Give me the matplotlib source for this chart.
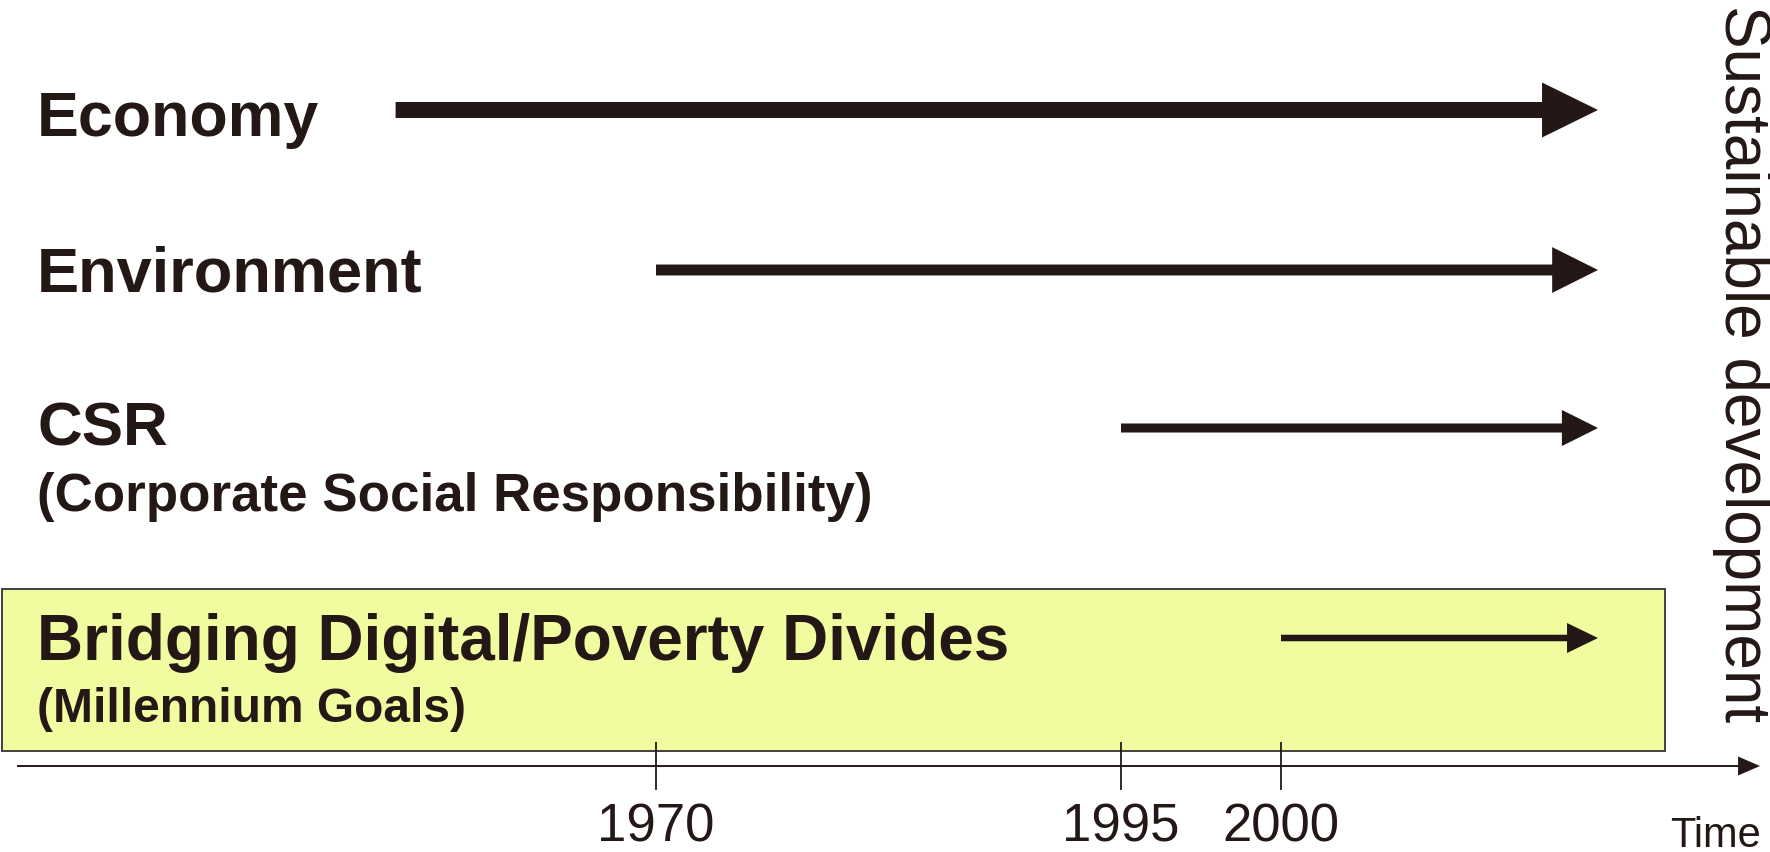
import matplotlib.pyplot as plt
import numpy as np
from matplotlib.patches import FancyArrowPatch, Rectangle, ArrowStyle
from matplotlib.transforms import blended_transform_factory

# filas del esquema (datos)
temas = ['Economy', 'Environment', 'CSR', 'Bridging Digital/Poverty Divides']
subtitulos = ['', '', '(Corporate Social Responsibility)', '(Millennium Goals)']
anio_inicio = [1956, 1970, 1995, 2000]
anio_fin = 2010
anios_marca = [1970, 1995, 2000]
etiqueta_eje = 'Time'
etiqueta_meta = 'Sustainable development'

# disposicion (pixeles de la figura, eje y hacia abajo)
fila_y = [111, 271, 429, 639]
texto_y = [136, 291, 446, 660]
ancho_tema = [282, 386, 131, 972]      # ancho medido del texto en la referencia
sub_y = [None, None, 511, 722]
ancho_sub = [0, 0, 834, 428]
# (ancho cola, ancho cabeza, largo cabeza) en puntos
flecha = [(11.5, 39.6, 40.3), (7.9, 33.0, 33.0), (6.5, 26.0, 26.0), (4.7, 21.6, 22.3)]

# el eje del tiempo no es lineal: escala por tramos
anios_nodo = [1930, 1995, 2000, 2020]
px_nodo = [-88, 1121, 1281, 1915]

negro = '#231815'
plt.rcParams['font.family'] = ['Liberation Sans', 'DejaVu Sans']

fig = plt.figure(figsize=(17.7, 8.53), dpi=100)
ax = fig.add_axes([0, 0, 1, 1])
rend = fig.canvas.get_renderer()


def adelante(x):
    return np.interp(x, anios_nodo, px_nodo)


def atras(x):
    return np.interp(x, px_nodo, anios_nodo)


def ajustar(t, ancho):
    # ajusta el tamaño de letra para que el texto ocupe el ancho pedido
    w = t.get_window_extent(renderer=rend).width
    t.set_fontsize(t.get_fontsize() * ancho / w)


ax.set_xscale('function', functions=(adelante, atras))
ax.set_xlim(atras(0), atras(1770))
ax.set_ylim(853, 0)
mezcla = blended_transform_factory(ax.transAxes, ax.transData)

for s in ['top', 'left', 'right', 'bottom']:
    ax.spines[s].set_visible(False)
ax.spines['bottom'].set_position(('data', 767))
ax.set_yticks([])
ax.set_xticks(anios_marca, labels=[str(a) for a in anios_marca])
ax.tick_params(axis='x', direction='inout', length=35, width=1.3, color=negro,
               labelsize=38, labelcolor=negro, pad=8)

# recuadro amarillo de la ultima fila
ax.add_patch(Rectangle((2 / 1770, 590), 1663 / 1770, 162, transform=mezcla,
                       facecolor='#f1fb9f', edgecolor='#333333', lw=1.3, zorder=0))

# eje del tiempo con flecha
ax.add_patch(FancyArrowPatch((17 / 1770, 767), (1760 / 1770, 767), transform=mezcla,
                             arrowstyle=ArrowStyle.Simple(head_length=15.8, head_width=13.7, tail_width=1.4),
                             mutation_scale=1, shrinkA=0, shrinkB=0, color=negro, lw=0))

for i in range(len(temas)):
    tw, hw, hl = flecha[i]
    ax.add_patch(FancyArrowPatch((anio_inicio[i], fila_y[i]), (anio_fin, fila_y[i]),
                                 arrowstyle=ArrowStyle.Simple(head_length=hl, head_width=hw, tail_width=tw),
                                 mutation_scale=1, shrinkA=0, shrinkB=0, color=negro, lw=0))
    t = ax.text(37 / 1770, texto_y[i], temas[i], transform=mezcla, fontsize=46,
                fontweight='bold', color=negro, va='baseline', ha='left')
    ajustar(t, ancho_tema[i])
    if subtitulos[i]:
        t = ax.text(37 / 1770, sub_y[i], subtitulos[i], transform=mezcla, fontsize=36,
                    fontweight='bold', color=negro, va='baseline', ha='left')
        ajustar(t, ancho_sub[i])

ax.text(1761 / 1770, 847, etiqueta_eje, transform=mezcla, fontsize=30, color=negro,
        va='baseline', ha='right')
ax.text(1742 / 1770, 364, etiqueta_meta, transform=mezcla, fontsize=46, color=negro,
        rotation=-90, va='center', ha='center')

fig.savefig('out.png', dpi=100)
